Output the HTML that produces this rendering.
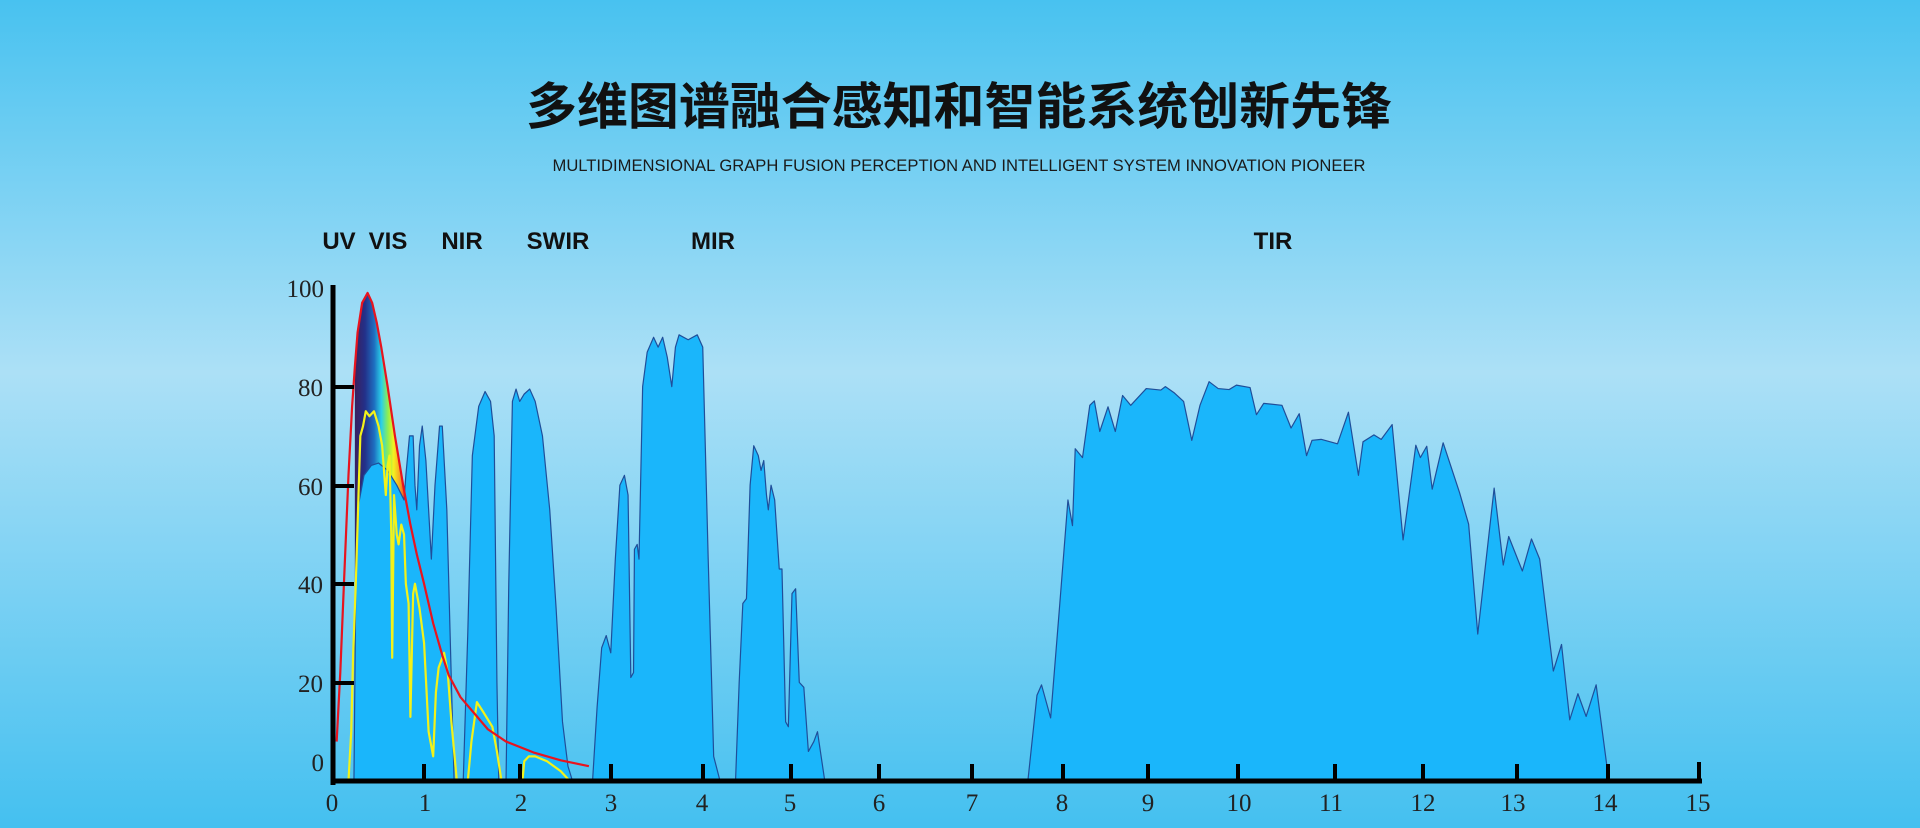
<!DOCTYPE html>
<html><head><meta charset="utf-8"><style>
html,body{margin:0;padding:0;width:1920px;height:828px;overflow:hidden}
</style></head><body>
<svg width="1920" height="828" viewBox="0 0 1920 828" xmlns="http://www.w3.org/2000/svg">
<defs>
<linearGradient id="bg" x1="0" y1="0" x2="0" y2="1">
<stop offset="0" stop-color="#48c2f0"/>
<stop offset="0.45" stop-color="#ace0f6"/>
<stop offset="1" stop-color="#44c0f0"/>
</linearGradient>
<linearGradient id="rb" gradientUnits="userSpaceOnUse" x1="0.24" y1="0" x2="0.8" y2="0">
<stop offset="0" stop-color="#3a1f5e"/>
<stop offset="0.2" stop-color="#23318a"/>
<stop offset="0.38" stop-color="#1e6fc0"/>
<stop offset="0.52" stop-color="#2ad0e8"/>
<stop offset="0.65" stop-color="#8fee50"/>
<stop offset="0.76" stop-color="#f5f020"/>
<stop offset="0.9" stop-color="#f59a20"/>
<stop offset="1" stop-color="#e83020"/>
</linearGradient>
</defs>
<rect width="1920" height="828" fill="url(#bg)"/>
<text x="959" y="124" text-anchor="middle" font-family="Liberation Sans, Noto Sans CJK SC, sans-serif" font-weight="bold" font-size="50" fill="#111" textLength="866" lengthAdjust="spacingAndGlyphs">多维图谱融合感知和智能系统创新先锋</text>
<text x="959" y="171" text-anchor="middle" font-family="Liberation Sans Narrow, Liberation Sans, sans-serif" font-size="17" fill="#1a1a1a" textLength="813" lengthAdjust="spacingAndGlyphs">MULTIDIMENSIONAL GRAPH FUSION PERCEPTION AND INTELLIGENT SYSTEM INNOVATION PIONEER</text>
<g font-family="Liberation Sans, sans-serif" font-weight="bold" font-size="24" fill="#111" text-anchor="middle">
<text x="339" y="249">UV</text><text x="388" y="249">VIS</text><text x="462" y="249">NIR</text><text x="558" y="249">SWIR</text><text x="713" y="249">MIR</text><text x="1273" y="249">TIR</text>
</g>
<g transform="translate(333,781) scale(91.07,-4.93)" stroke-linejoin="round">
<path fill="url(#rb)" d="M0.24,0 L0.24,84 L0.27,91 L0.32,97 L0.38,99 L0.43,97 L0.48,93 L0.53,88 L0.6,80 L0.68,70 L0.77,60 L0.8,57 L0.8,0 Z"/>
<g fill="#1ab6fb" stroke="#1f4e9a" stroke-width="1.2">
<path vector-effect="non-scaling-stroke" d="M0.23,0 L0.25,40 L0.28,56 L0.34,62 L0.42,64 L0.5,64.5 L0.6,63 L0.7,60 L0.78,57 L0.8,62 L0.84,70 L0.88,70 L0.9,60 L0.92,55 L0.95,68 L0.98,72 L1.02,65 L1.08,45 L1.12,60 L1.17,72 L1.2,72 L1.25,55 L1.3,20 L1.33,0 Z"/>
<path vector-effect="non-scaling-stroke" d="M1.43,0 L1.48,30 L1.53,66 L1.6,76 L1.67,79 L1.73,77 L1.77,70 L1.8,20 L1.82,0 Z"/>
<path vector-effect="non-scaling-stroke" d="M1.9,0 L1.93,40 L1.97,77 L2.01,79.5 L2.05,77 L2.1,78.5 L2.16,79.5 L2.22,77 L2.3,70 L2.38,55 L2.45,35 L2.52,12 L2.58,3 L2.63,0 Z"/>
<path vector-effect="non-scaling-stroke" d="M2.85,0 L2.9,15 L2.95,27 L3.0,29.5 L3.05,26 L3.1,45 L3.15,60 L3.2,62 L3.24,58 L3.27,21 L3.3,22 L3.31,47 L3.34,48 L3.36,45 L3.4,80 L3.45,87 L3.52,90 L3.57,88 L3.62,90 L3.67,86 L3.72,80 L3.76,88 L3.8,90.5 L3.9,89.5 L4.0,90.5 L4.06,88 L4.12,45 L4.18,5 L4.25,0 Z"/>
<path vector-effect="non-scaling-stroke" d="M4.42,0 L4.46,20 L4.5,36 L4.54,37 L4.58,60 L4.62,68 L4.67,66 L4.7,63 L4.73,65 L4.76,58 L4.78,55 L4.81,60 L4.85,57 L4.9,43 L4.93,43 L4.97,12 L5.0,11 L5.04,38 L5.08,39 L5.12,20 L5.17,19 L5.22,6 L5.28,8 L5.32,10 L5.4,0 Z"/>
<path vector-effect="non-scaling-stroke" d="M7.63,0 L7.73,17.4 L7.78,19.5 L7.88,12.8 L7.98,35.8 L8.07,57 L8.12,51.8 L8.15,67.4 L8.23,65.6 L8.31,76.2 L8.36,77.1 L8.42,70.9 L8.51,75.9 L8.59,70.9 L8.67,78.2 L8.76,76.2 L8.93,79.6 L9.09,79.3 L9.14,80 L9.24,78.7 L9.34,77 L9.43,69.1 L9.52,76.2 L9.62,81 L9.72,79.6 L9.84,79.4 L9.92,80.3 L10.07,79.8 L10.14,74.3 L10.22,76.6 L10.42,76.2 L10.52,71.6 L10.61,74.5 L10.69,66 L10.75,69.1 L10.85,69.3 L11.03,68.4 L11.15,74.8 L11.26,62 L11.31,68.8 L11.43,70.2 L11.51,69.3 L11.63,72.3 L11.75,48.9 L11.89,68.1 L11.94,65.6 L12.01,67.9 L12.07,59.2 L12.19,68.6 L12.37,58.5 L12.47,52.1 L12.57,29.8 L12.75,59.4 L12.85,43.8 L12.91,49.6 L13.06,42.6 L13.16,49.1 L13.25,45 L13.4,22.3 L13.49,27.7 L13.58,12.4 L13.67,17.7 L13.76,13.1 L13.87,19.5 L14.01,0 Z"/>
</g>
<path fill="none" stroke="#f2f21a" stroke-width="2.2" vector-effect="non-scaling-stroke" d="M0.17,0 L0.2,10 L0.22,25 L0.25,40 L0.28,58 L0.3,70 L0.33,72 L0.36,75 L0.4,74 L0.45,75 L0.5,72 L0.54,68 L0.58,58 L0.6,64 L0.62,66 L0.64,50 L0.65,25 L0.67,58 L0.7,50 L0.72,48 L0.75,52 L0.78,50 L0.8,40 L0.83,36 L0.85,13 L0.88,38 L0.9,40 L0.95,35 L1.0,28 L1.05,10 L1.1,5 L1.13,18 L1.16,23 L1.22,26 L1.26,22 L1.3,12 L1.36,0 L1.48,0 L1.52,8 L1.58,16 L1.65,14 L1.75,11 L1.8,6 L1.85,0 L2.08,0 L2.1,4 L2.15,5 L2.22,5 L2.35,4 L2.5,2 L2.6,0"/>
<path fill="none" stroke="#e8141e" stroke-width="2.2" vector-effect="non-scaling-stroke" d="M0.04,8 L0.08,22 L0.12,40 L0.17,62 L0.21,76 L0.24,84 L0.27,91 L0.32,97 L0.38,99 L0.43,97 L0.48,93 L0.53,88 L0.6,80 L0.68,70 L0.77,60 L0.85,52 L0.92,46 L1.0,40 L1.1,32 L1.2,25.5 L1.27,21.5 L1.4,17 L1.52,14.4 L1.7,10.5 L1.9,8 L2.2,5.8 L2.5,4.2 L2.81,3"/>
</g>
<g stroke="#000" fill="none">
<line x1="333" y1="285" x2="333" y2="785" stroke-width="5"/>
<line x1="331" y1="781" x2="1702" y2="781" stroke-width="5"/>
<g stroke-width="4">
<line x1="333" y1="683" x2="354" y2="683"/><line x1="333" y1="584" x2="354" y2="584"/><line x1="333" y1="486" x2="354" y2="486"/><line x1="333" y1="387" x2="354" y2="387"/>
<line x1="424" y1="781" x2="424" y2="764"/><line x1="520" y1="781" x2="520" y2="764"/><line x1="611" y1="781" x2="611" y2="764"/><line x1="703" y1="781" x2="703" y2="764"/><line x1="791" y1="781" x2="791" y2="764"/><line x1="879" y1="781" x2="879" y2="764"/><line x1="972" y1="781" x2="972" y2="764"/><line x1="1063" y1="781" x2="1063" y2="764"/><line x1="1148" y1="781" x2="1148" y2="764"/><line x1="1238" y1="781" x2="1238" y2="764"/><line x1="1335" y1="781" x2="1335" y2="764"/><line x1="1423" y1="781" x2="1423" y2="764"/><line x1="1517" y1="781" x2="1517" y2="764"/><line x1="1608" y1="781" x2="1608" y2="764"/><line x1="1699" y1="783" x2="1699" y2="762"/>
</g>
</g>
<g font-family="Liberation Serif, serif" font-size="25" fill="#222" text-anchor="end">
<text x="324" y="297">100</text><text x="323" y="692">20</text><text x="323" y="593">40</text><text x="323" y="495">60</text><text x="323" y="396">80</text><text x="324" y="771">0</text>
</g>
<g font-family="Liberation Serif, serif" font-size="25" fill="#222" text-anchor="middle">
<text x="332" y="811">0</text><text x="425" y="811">1</text><text x="521" y="811">2</text><text x="611" y="811">3</text><text x="702" y="811">4</text><text x="790" y="811">5</text><text x="879" y="811">6</text><text x="972" y="811">7</text><text x="1062" y="811">8</text><text x="1148" y="811">9</text><text x="1239" y="811">10</text><text x="1331" y="811">11</text><text x="1423" y="811">12</text><text x="1513" y="811">13</text><text x="1605" y="811">14</text><text x="1698" y="811">15</text>
</g>
</svg>
</body></html>
